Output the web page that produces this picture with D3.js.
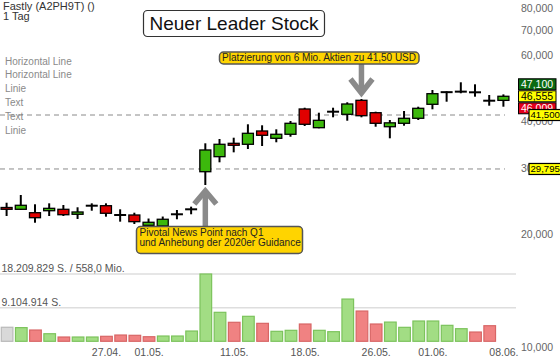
<!DOCTYPE html>
<html><head><meta charset="utf-8">
<script src="https://cdn.jsdelivr.net/npm/d3@7"></script>
<style>body{margin:0;background:#fff;} svg{display:block;font-family:"Liberation Sans",Arial,sans-serif;}</style>
</head><body><svg id="c" width="560" height="362"></svg>
<script>
// ---------- DATA ----------
const dates = ["16.04.","17.04.","20.04.","21.04.","22.04.","23.04.","24.04.","27.04.","28.04.","29.04.",
  "01.05.","04.05.","05.05.","06.05.","07.05.","08.05.","11.05.","12.05.","13.05.","14.05.",
  "15.05.","18.05.","19.05.","20.05.","21.05.","22.05.","26.05.","27.05.","28.05.","29.05.",
  "01.06.","02.06.","03.06.","04.06.","05.06.","08.06."];
const openP  = [23.52,23.26,22.78,23.06,23.26,22.56,23.78,23.78,22.46,22.46,21.08,21.00,22.56,23.26,29.30,32.13,34.88,34.67,37.62,35.97,36.87,43.06,38.39,42.35,41.68,45.42,42.09,38.62,39.44,40.67,44.32,47.75,47.90,47.71,45.31,45.40];
const highP  = [24.22,25.40,23.99,24.13,23.88,23.55,24.13,24.13,23.26,22.78,21.98,22.25,23.16,23.64,34.88,35.82,36.10,39.20,38.96,38.01,40.00,43.40,42.09,43.40,44.87,45.78,42.35,40.25,42.53,43.67,48.38,48.00,50.73,50.11,46.93,47.10];
const lowP   = [22.32,23.16,21.42,22.32,22.32,21.92,23.06,22.23,21.56,21.25,20.93,20.97,21.88,22.56,27.00,31.04,33.00,33.68,34.31,35.10,36.32,38.79,38.25,40.92,40.07,40.92,38.62,35.97,38.86,40.25,42.98,45.03,47.42,46.44,43.94,43.67];
const closeP = [23.26,23.84,22.09,23.40,22.50,22.88,23.78,22.70,22.46,21.56,21.48,21.88,22.56,23.26,33.48,34.67,34.46,37.09,36.64,36.87,39.44,39.20,40.17,42.35,44.40,41.32,39.44,39.55,40.67,43.24,47.30,47.75,47.90,47.71,45.31,46.555];
// volume in millions of shares (last day not shown)
const volume = [3.80,3.70,3.05,2.05,1.16,1.16,1.16,1.35,1.70,1.62,1.24,1.43,1.43,2.78,18.209829,7.84,5.14,6.76,4.86,2.70,2.97,4.68,2.97,2.60,11.43,8.19,4.68,5.20,3.78,5.49,5.49,4.32,3.41,2.51,4.22,null];
const volTicks = [18.209829, 9.104914];
const volTurnover = ["558,0 Mio."];
const priceTicks = [10,20,30,40,50,60,70,80];
const xTickDates = ["27.04.","01.05.","11.05.","18.05.","26.05.","01.06.","08.06."];
const hLines = [41.5, 29.795];
const quoteLabels = [47.1, 46.555, 46.009];
const headerTexts = ["Fastly (A2PH9T) ()","1 Tag"];
const drawingList = ["Horizontal Line","Horizontal Line","Linie","Text","Text","Linie"];
const titleText = ["Neuer Leader Stock"];
const annoDownIdx = [25];
const annoDownText = ["Platzierung von 6 Mio. Aktien zu 41,50 USD"];
const annoUpIdx = [14];
const annoUpText = ["Pivotal News Point nach Q1","und Anhebung der 2020er Guidance"];

// ---------- SETUP ----------
const de = d3.formatLocale({decimal:",", thousands:".", grouping:[3], currency:["","€"]});
const fmtP = de.format(".3f");
const fmtV = de.format(",d");
const svg = d3.select("#c");
const n = dates.length;
const x = d3.scalePoint().domain(d3.range(n)).range([-0.5, 510.5]).padding(0.5);
const step = x.step();
const y = d3.scaleLog().domain([10, 80]).range([346.8, 8.1]);
const yv = d3.scaleLinear().domain([0, volTicks[0]]).range([341.3, 274]);
const GREEN = "#3cb80c", RED = "#e00000";

// header texts
svg.append("text").attr("x",3).attr("y",10).attr("font-size",11).attr("fill","#333").text(headerTexts[0]);
svg.append("text").attr("x",3).attr("y",19.5).attr("font-size",11).attr("fill","#333").text(headerTexts[1]);
svg.selectAll("text.dl").data(drawingList).join("text").attr("class","dl")
  .attr("x",5).attr("y",(d,i)=>64.5+i*13.8).attr("font-size",10).attr("fill","#8a8a8a").text(d=>d);

// volume grid
svg.selectAll("line.vg").data(volTicks).join("line").attr("class","vg")
  .attr("x1",0).attr("x2",516).attr("y1",d=>yv(d)).attr("y2",d=>yv(d))
  .attr("stroke","#dedede").attr("stroke-width",1.5);
svg.selectAll("text.vl").data(volTicks).join("text").attr("class","vl")
  .attr("x",1.5).attr("y",d=>yv(d)-1.8).attr("font-size",10.5).attr("fill","#555")
  .text((d,i)=> fmtV(Math.round(d*1e6)) + " S." + (i===0 ? " / " + volTurnover[0] : ""));

// volume bars
const vbw = step*0.82;
svg.selectAll("rect.vb").data(d3.range(n).filter(i=>volume[i]!=null)).join("rect").attr("class","vb")
  .attr("x",i=>x(i)-vbw/2+0.5).attr("width",vbw)
  .attr("y",i=>yv(volume[i])).attr("height",i=>yv(0)-yv(volume[i]))
  .attr("fill",i=> i===0 ? "#d9d9d9" : (closeP[i]>=closeP[i-1] ? "#a2dd84" : "#f08282"))
  .attr("stroke",i=> i===0 ? "#b9b9b9" : (closeP[i]>=closeP[i-1] ? "#7cc35c" : "#d86666"))
  .attr("stroke-width",1.2);

// right price axis
const ax = svg.append("g").attr("transform","translate(521,0)")
  .call(d3.axisRight(y).tickValues(priceTicks).tickFormat(fmtP).tickSize(0).tickPadding(0));
ax.select(".domain").remove();
ax.selectAll("text").attr("font-size",10.5).attr("fill","#666").attr("font-family","Liberation Sans, Arial, sans-serif");

// x axis
const xt = d3.range(n).filter(i=>xTickDates.includes(dates[i]));
const axb = svg.append("g").attr("transform","translate(0,348.5)")
  .call(d3.axisBottom(x).tickValues(xt).tickFormat(i=>dates[i]).tickSize(0).tickPadding(0));
axb.select(".domain").remove();
axb.selectAll("text").attr("font-size",10.5).attr("fill","#555").attr("font-family","Liberation Sans, Arial, sans-serif");

// dashed horizontal lines
svg.selectAll("line.hl").data(hLines).join("line").attr("class","hl")
  .attr("x1",0).attr("x2",505).attr("y1",d=>y(d)).attr("y2",d=>y(d))
  .attr("stroke","#8a8a8a").attr("stroke-width",1).attr("stroke-dasharray","5,4");

// title box
const tg = svg.append("g");
tg.append("rect").attr("x",143.5).attr("y",10.5).attr("width",181).attr("height",26).attr("rx",4)
  .attr("fill","#fff").attr("stroke","#333").attr("stroke-width",1.2);
tg.append("text").attr("x",234).attr("y",30).attr("text-anchor","middle").attr("font-size",19).attr("fill","#111").text(titleText[0]);

// candles
const cg = svg.append("g");
const idx = d3.range(n);
cg.selectAll("line.wick").data(idx).join("line").attr("class","wick")
  .attr("x1",i=>x(i)).attr("x2",i=>x(i)).attr("y1",i=>y(highP[i])).attr("y2",i=>y(lowP[i]))
  .attr("stroke","#000").attr("stroke-width",2);
const bw = 11;
cg.selectAll("rect.body").data(idx.filter(i=>openP[i]!==closeP[i])).join("rect").attr("class","body")
  .attr("x",i=>x(i)-bw/2).attr("width",bw)
  .attr("y",i=>y(Math.max(openP[i],closeP[i])))
  .attr("height",i=>Math.max(1.5, y(Math.min(openP[i],closeP[i]))-y(Math.max(openP[i],closeP[i]))))
  .attr("fill",i=>closeP[i]>openP[i]?GREEN:RED).attr("stroke","#000").attr("stroke-width",1.3);
cg.selectAll("line.doji").data(idx.filter(i=>openP[i]===closeP[i])).join("line").attr("class","doji")
  .attr("x1",i=>x(i)-6).attr("x2",i=>x(i)+6).attr("y1",i=>y(closeP[i])).attr("y2",i=>y(closeP[i]))
  .attr("stroke","#000").attr("stroke-width",2);

// annotation down (placement)
{
  const i = annoDownIdx[0], cx = x(i), tip = y(highP[i]) - 3;
  const ag = svg.append("g");
  ag.append("line").attr("x1",cx).attr("x2",cx).attr("y1",64).attr("y2",tip-3).attr("stroke","#8a8a8a").attr("stroke-width",5.5);
  ag.append("path").attr("d",`M${cx-11},${tip-17}L${cx},${tip-3}L${cx+11},${tip-17}`).attr("fill","none")
    .attr("stroke","#8a8a8a").attr("stroke-width",5.5).attr("stroke-linejoin","miter");
  ag.append("rect").attr("x",219.5).attr("y",52).attr("width",199.5).attr("height",12).attr("rx",4)
    .attr("fill","#ffd400").attr("stroke","#555").attr("stroke-width",1.5);
  ag.append("text").attr("x",319).attr("y",61.3).attr("text-anchor","middle").attr("font-size",10).attr("fill","#222").text(annoDownText[0]);
}
// annotation up (pivotal)
{
  const i = annoUpIdx[0], cx = x(i), tip = y(lowP[i]) + 2;
  const ag = svg.append("g");
  ag.append("line").attr("x1",cx).attr("x2",cx).attr("y1",226.5).attr("y2",tip+4).attr("stroke","#8a8a8a").attr("stroke-width",5.5);
  ag.append("path").attr("d",`M${cx-11},${tip+17}L${cx},${tip+4}L${cx+11},${tip+17}`).attr("fill","none")
    .attr("stroke","#8a8a8a").attr("stroke-width",5.5).attr("stroke-linejoin","miter");
  ag.append("rect").attr("x",136.5).attr("y",226.5).attr("width",166).attr("height",27).attr("rx",4)
    .attr("fill","#ffd400").attr("stroke","#555").attr("stroke-width",1.5);
  annoUpText.forEach((t,k)=>{
    ag.append("text").attr("x",139.5).attr("y",235.5+k*10.8).attr("font-size",10).attr("fill","#222").text(t);
  });
}

// quote labels (stacked around close)
const qc = y(quoteLabels[1]);
const qStyle = [{bg:"#0b6a12",fg:"#fff"},{bg:"#ffff00",fg:"#000"},{bg:"#e3001b",fg:"#fff"}];
quoteLabels.forEach((v,k)=>{
  const cy = qc + (k-1)*12;
  svg.append("rect").attr("x",518.5).attr("y",cy-5.5).attr("width",37.5).attr("height",11)
    .attr("fill",qStyle[k].bg).attr("stroke","#000").attr("stroke-width",1);
  svg.append("text").attr("x",521).attr("y",cy).attr("dy","0.36em").attr("font-size",10.5).attr("fill",qStyle[k].fg).text(fmtP(v));
});
// horizontal line labels
hLines.forEach(v=>{
  const cy = y(v);
  svg.append("rect").attr("x",529).attr("y",cy-5.5).attr("width",34).attr("height",11)
    .attr("fill","#ffff00").attr("stroke","#000").attr("stroke-width",1.2);
  svg.append("text").attr("x",530.5).attr("y",cy).attr("dy","0.36em").attr("font-size",9.6).attr("fill","#000").text(fmtP(v));
});
</script></body></html>
